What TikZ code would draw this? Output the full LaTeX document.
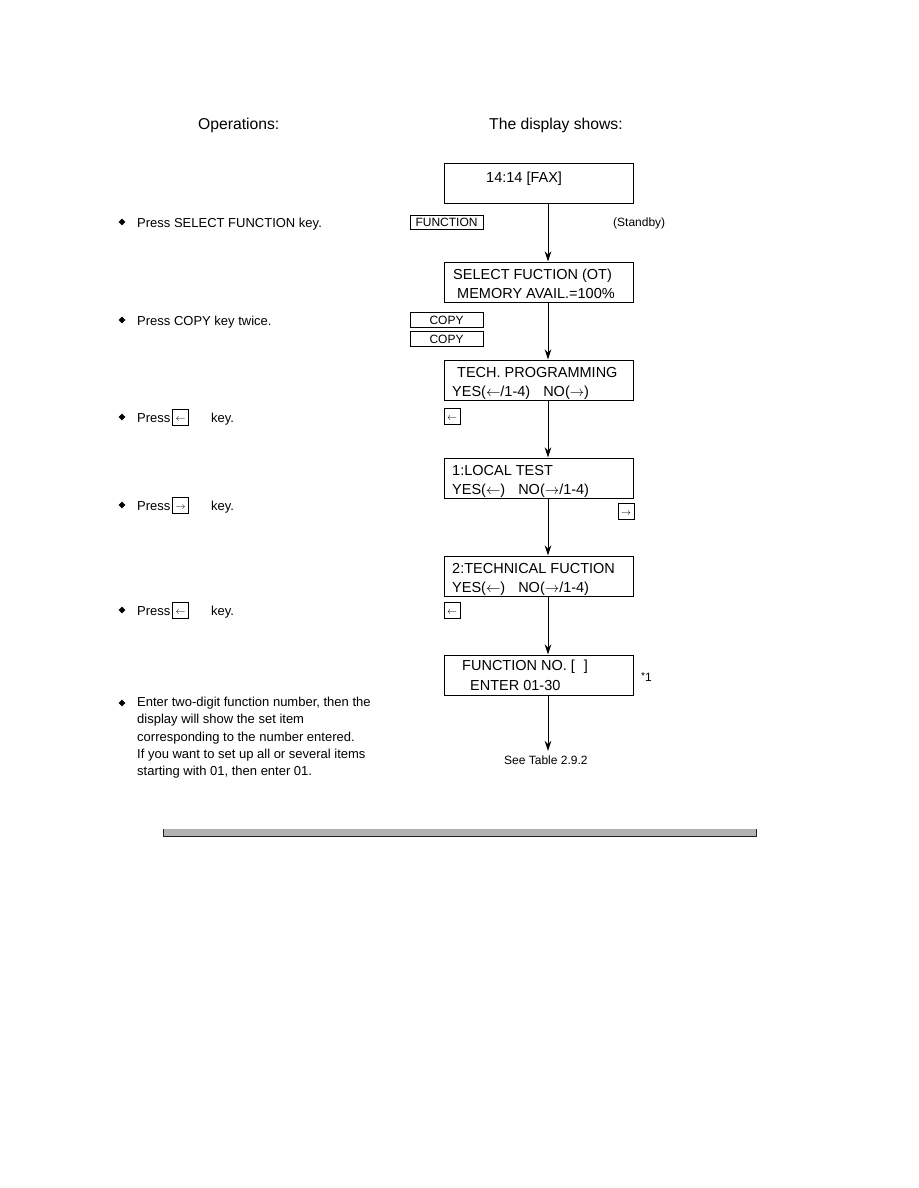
\documentclass[tikz,border=0pt]{standalone}
\usepackage{fontspec}
\setmainfont{Liberation Sans}
\usetikzlibrary{arrows.meta,shapes.geometric}
\newcommand{\lar}{\ensuremath{\leftarrow}}
\newcommand{\rar}{\ensuremath{\rightarrow}}
\newcommand{\klar}{\raisebox{-1.5pt}{\ensuremath{\leftarrow}}}
\newcommand{\krar}{\raisebox{-1.5pt}{\ensuremath{\rightarrow}}}
\begin{document}
\begin{tikzpicture}[x=1pt,y=-1pt,
  dispbox/.style={draw, line width=1pt, minimum width=189pt, minimum height=40pt, inner sep=0pt},
  disptext/.style={anchor=base west, inner sep=0pt, font=\fontsize{14.5}{17}\selectfont},
  head/.style={anchor=base west, inner sep=0pt, font=\fontsize{15.7}{18}\selectfont},
  optext/.style={anchor=base west, inner sep=0pt, font=\fontsize{13}{17}\selectfont},
  small/.style={anchor=base west, inner sep=0pt, font=\fontsize{12}{14}\selectfont},
  keybox/.style={draw, line width=0.8pt, inner sep=0pt, minimum width=73pt, minimum height=14.5pt, font=\fontsize{12}{14}\selectfont},
  arrkey/.style={draw, line width=0.8pt, inner sep=0pt, minimum width=16pt, minimum height=16pt, text height=5.5pt, text depth=0pt, font=\fontsize{10}{12}\selectfont},
  flow/.style={line width=1pt, -{Stealth[length=10pt,width=6.5pt]}},
  bul/.style={diamond, fill, inner sep=0pt, minimum size=7pt},
]
\useasboundingbox (0,0) rectangle (918,1188);

% headers
\node[head] (hop) at (198,130) {Operations:};
\node[head] (hdisp) at (489,130) {The display shows:};

% display boxes
\node[dispbox] (b1) at (538.5,183.5) {};
\node[dispbox] (b2) at (538.5,282) {};
\node[dispbox] (b3) at (538.5,380) {};
\node[dispbox] (b4) at (538.5,478) {};
\node[dispbox] (b5) at (538.5,576) {};
\node[dispbox] (b6) at (538.5,675) {};

\node[disptext] (t1) at (486,182) {14:14 [FAX]};
\node[disptext] (t2a) at (453,279) {SELECT FUCTION (OT)};
\node[disptext] (t2b) at (457,298) {MEMORY AVAIL.=100\%};
\node[disptext] (t3a) at (457,377) {TECH. PROGRAMMING};
\node[disptext] (t3b) at (452,396) {YES(\lar/1-4)\hspace{13pt}NO(\rar)};
\node[disptext] (t4a) at (452,475) {1:LOCAL TEST};
\node[disptext] (t4b) at (452,494) {YES(\lar)\hspace{13pt}NO(\rar/1-4)};
\node[disptext] (t5a) at (452,573) {2:TECHNICAL FUCTION};
\node[disptext] (t5b) at (452,592) {YES(\lar)\hspace{13pt}NO(\rar/1-4)};
\node[disptext] (t6a) at (462,670) {FUNCTION NO. [\hspace{9pt}]};
\node[disptext] (t6b) at (470,690) {ENTER 01-30};

% connectors
\coordinate (ax) at (548,0);
\coordinate (tail) at (548,751);
\draw[flow] (b1.south -| ax) -- (b2.north -| ax);
\draw[flow] (b2.south -| ax) -- (b3.north -| ax);
\draw[flow] (b3.south -| ax) -- (b4.north -| ax);
\draw[flow] (b4.south -| ax) -- (b5.north -| ax);
\draw[flow] (b5.south -| ax) -- (b6.north -| ax);
\draw[flow] (b6.south -| ax) -- (tail);
\node[small] (see) at (504,764) {See Table 2.9.2};

% key labels on the right
\node[keybox] (kfunc) at (446.5,222.5) {FUNCTION};
\node[small] (stby) at (613,226) {(Standby)};
\node[keybox] (kcopy1) at (446.5,320) {COPY};
\node[keybox] (kcopy2) at (446.5,339) {COPY};
\node[arrkey] (kl1) at (452,416) {\klar};
\node[arrkey] (kr1) at (626,511.5) {\krar};
\node[arrkey] (kl2) at (452,610) {\klar};
\node[small] (star) at (641,681) {\raisebox{1.5pt}{\fontsize{10}{12}\selectfont *}1};

% operations column
\node[bul] (d1) at (122,222) {};
\node[optext] (o1) at (137,227) {Press SELECT FUNCTION key.};
\node[bul] (d2) at (122,320) {};
\node[optext] (o2) at (137,325) {Press COPY key twice.};
\node[bul] (d3) at (122,417) {};
\node[optext] (o3) at (137,422) {Press};
\node[arrkey] (ok3) at (180.5,417) {\klar};
\node[optext] (o3k) at (211,422) {key.};
\node[bul] (d4) at (122,505) {};
\node[optext] (o4) at (137,510) {Press};
\node[arrkey] (ok4) at (180.5,505) {\krar};
\node[optext] (o4k) at (211,510) {key.};
\node[bul] (d5) at (122,610) {};
\node[optext] (o5) at (137,615) {Press};
\node[arrkey] (ok5) at (180.5,610) {\klar};
\node[optext] (o5k) at (211,615) {key.};
\node[bul] (d6) at (122,703) {};
\node[optext, align=left, anchor=north west, font=\fontsize{13}{17.3}\selectfont] (o6) at (137,697)
  {Enter two-digit function number, then the\\display will show the set item\\corresponding to the number entered.\\If you want to set up all or several items\\starting with 01, then enter 01.};

% bottom bar
\fill[gray!60] (163,829) rectangle (757,837);
\draw[gray!25!black, line width=1.2pt] (163,836.5) -- (757,836.5);
\draw[gray!25!black, line width=1.2pt] (163.6,829) -- (163.6,837);
\draw[gray!25!black, line width=1.2pt] (756.4,829) -- (756.4,837);
\end{tikzpicture}
\end{document}
